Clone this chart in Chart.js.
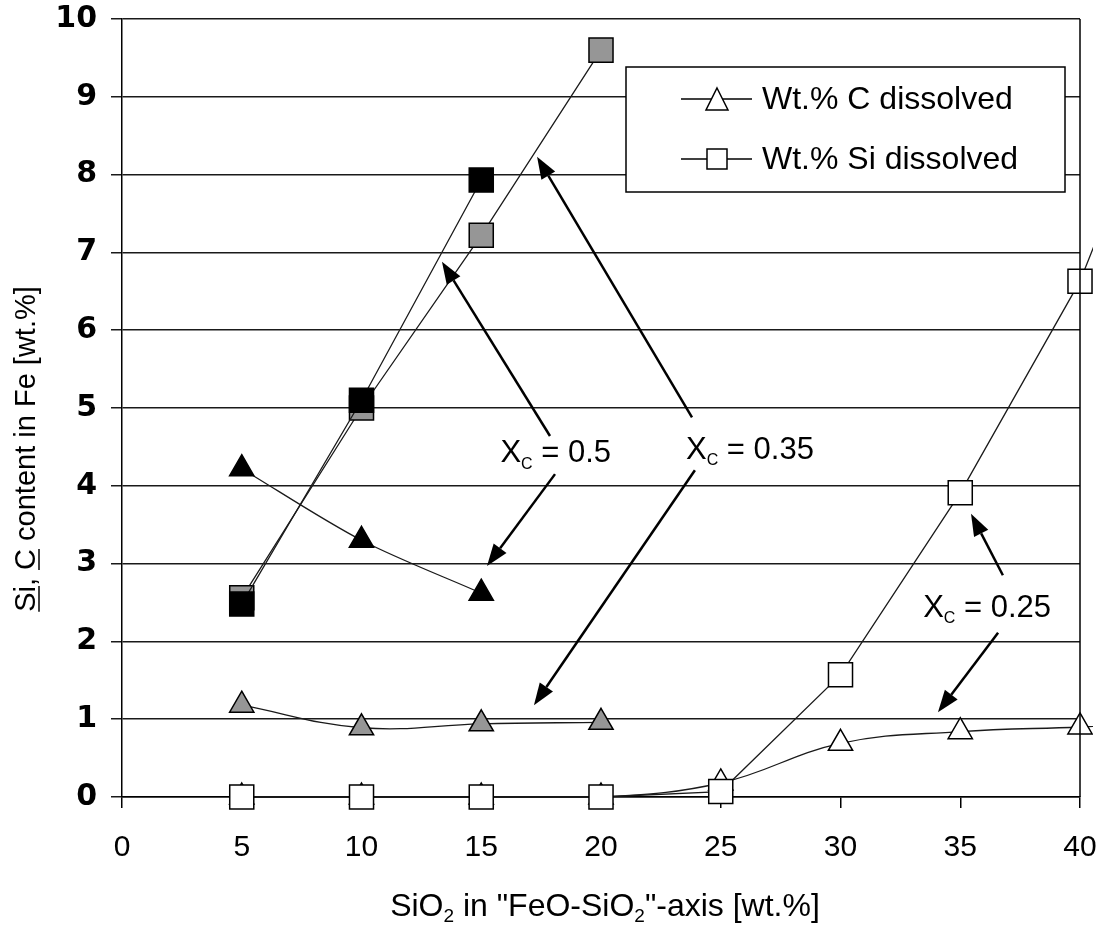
<!DOCTYPE html>
<html>
<head>
<meta charset="utf-8">
<title>Si, C content in Fe</title>
<script src="https://cdn.jsdelivr.net/npm/chart.js@4/dist/chart.umd.min.js"></script>
<style>
  html, body { margin: 0; padding: 0; background: #fff; }
</style>
</head>
<body>
<canvas id="chart" width="1104" height="927"></canvas>
<script>
// ===== Data =====
const sio2 = [5, 10, 15, 20, 25, 30, 35, 40, 45];
const xTicks = [0, 5, 10, 15, 20, 25, 30, 35, 40];
const yTicks = [0, 1, 2, 3, 4, 5, 6, 7, 8, 9, 10];

// Xc = 0.5 (black)
const siX050 = [2.48, 5.1, 7.93];
const cX050 = [4.22, 3.3, 2.62];
// Xc = 0.35 (grey)
const siX035 = [2.56, 5.0, 7.22, 9.6];
const cX035 = [1.18, 0.89, 0.94, 0.96];
// Xc = 0.25 (white), last value runs off the right edge
const siX025 = [0, 0, 0, 0, 0.07, 1.57, 3.91, 6.63, 10.5];
const cX025 = [0, 0, 0, 0, 0.18, 0.69, 0.84, 0.9, 0.97];

const legendItems = [
  { text: 'Wt.% C dissolved', style: 'triangle' },
  { text: 'Wt.% Si dissolved', style: 'rect' },
];

// annotation labels and arrows, in data units
const notes = [
  { text: '0.5', x: 15.8, y: 4.3 },
  { text: '0.35', x: 23.55, y: 4.35 },
  { text: '0.25', x: 33.45, y: 2.32 },
];
const arrows = [
  { from: [17.87, 4.64], to: [13.36, 6.88] },
  { from: [18.08, 4.15], to: [15.24, 2.97] },
  { from: [23.80, 4.88], to: [17.33, 8.23] },
  { from: [23.92, 4.20], to: [17.20, 1.18] },
  { from: [36.78, 2.85], to: [35.45, 3.64] },
  { from: [36.58, 2.11], to: [34.07, 1.09] },
];

const fam = "'Liberation Sans', Arial, sans-serif";

// ===== Helpers =====
function pts(vals) {
  return vals.map((v, i) => ({ x: sio2[i], y: v }));
}

const clipBox = { left: 20, top: 20, right: 13, bottom: 20 };

function series(label, vals, style, fill, radius, tension) {
  return {
    label,
    data: pts(vals),
    showLine: true,
    borderColor: '#1a1a1a',
    borderWidth: 1.3,
    pointStyle: style,
    pointRadius: vals.map((v, i) => (sio2[i] > 40 ? 0 : radius)),
    pointBackgroundColor: fill,
    pointBorderColor: '#000',
    pointBorderWidth: 1.5,
    tension,
    clip: clipBox,
  };
}

// no extra room for half labels; the layout padding handles it
function fixScale(s, prop, size) {
  s[prop] = size;
  s.paddingTop = 0;
  s.paddingBottom = 0;
  s.paddingLeft = 0;
  s.paddingRight = 0;
}

// draws text made of parts [text, kind]; kind 'sub' = subscript, 'u' = underlined
function richText(ctx, parts, x, y, size, align, subScale) {
  const sc = subScale || 0.6;
  const widths = parts.map(p => {
    ctx.font = (p[1] === 'sub' ? Math.round(size * sc) : size) + 'px ' + fam;
    return ctx.measureText(p[0]).width;
  });
  const total = widths.reduce((a, b) => a + b, 0);
  let cx = align === 'center' ? x - total / 2 : x;
  ctx.textAlign = 'left';
  ctx.textBaseline = 'alphabetic';
  parts.forEach((p, i) => {
    const sub = p[1] === 'sub';
    ctx.font = (sub ? Math.round(size * sc) : size) + 'px ' + fam;
    ctx.fillText(p[0], cx, y + (sub ? size * 0.2 : 0));
    if (p[1] === 'u') {
      ctx.beginPath();
      ctx.lineWidth = 1.5;
      ctx.moveTo(cx, y + 4);
      ctx.lineTo(cx + widths[i], y + 4);
      ctx.stroke();
    }
    cx += widths[i];
  });
}

function arrow(ctx, x1, y1, x2, y2) {
  const ang = Math.atan2(y2 - y1, x2 - x1);
  const len = 22, half = 8;
  const bx = x2 - Math.cos(ang) * len, by = y2 - Math.sin(ang) * len;
  ctx.beginPath();
  ctx.lineWidth = 2.5;
  ctx.moveTo(x1, y1);
  ctx.lineTo(bx, by);
  ctx.stroke();
  ctx.beginPath();
  ctx.moveTo(x2, y2);
  ctx.lineTo(bx + Math.sin(ang) * half, by - Math.cos(ang) * half);
  ctx.lineTo(bx - Math.sin(ang) * half, by + Math.cos(ang) * half);
  ctx.closePath();
  ctx.fill();
}

// ===== Decorations: border, legend, notes, axis titles =====
const decorations = {
  id: 'decorations',
  afterDatasetsDraw(chart) {
    const { ctx, chartArea: a, scales: { x, y } } = chart;
    ctx.save();
    ctx.fillStyle = '#000';
    ctx.strokeStyle = '#000';

    // right border
    ctx.beginPath();
    ctx.lineWidth = 1.5;
    ctx.moveTo(a.right, a.top);
    ctx.lineTo(a.right, a.bottom);
    ctx.stroke();

    // legend box
    const lw = 439, lh = 125;
    const lx = a.right - 454, ly = a.top + 48;
    ctx.fillStyle = '#fff';
    ctx.fillRect(lx, ly, lw, lh);
    ctx.lineWidth = 1.5;
    ctx.strokeRect(lx, ly, lw, lh);
    legendItems.forEach((it, i) => {
      const cy = ly + 32 + i * 60;
      ctx.beginPath();
      ctx.lineWidth = 1.3;
      ctx.moveTo(lx + 55, cy);
      ctx.lineTo(lx + 126, cy);
      ctx.stroke();
      const mx = lx + 91;
      ctx.beginPath();
      if (it.style === 'triangle') {
        ctx.moveTo(mx, cy - 11);
        ctx.lineTo(mx + 11, cy + 11);
        ctx.lineTo(mx - 11, cy + 11);
        ctx.closePath();
      } else {
        ctx.rect(mx - 10, cy - 10, 20, 20);
      }
      ctx.fillStyle = '#fff';
      ctx.fill();
      ctx.lineWidth = 1.5;
      ctx.stroke();
      ctx.fillStyle = '#000';
      ctx.font = '32px ' + fam;
      ctx.textAlign = 'left';
      ctx.textBaseline = 'middle';
      ctx.fillText(it.text, lx + 136, cy + 1);
    });

    // Xc labels and arrows
    ctx.fillStyle = '#000';
    notes.forEach(n => {
      richText(ctx, [['X'], ['C', 'sub'], [' = ' + n.text]],
        x.getPixelForValue(n.x), y.getPixelForValue(n.y), 31, 'left', 0.5);
    });
    arrows.forEach(ar => {
      arrow(ctx,
        x.getPixelForValue(ar.from[0]), y.getPixelForValue(ar.from[1]),
        x.getPixelForValue(ar.to[0]), y.getPixelForValue(ar.to[1]));
    });

    // x-axis title
    richText(ctx, [['SiO'], ['2', 'sub'], [' in "FeO-SiO'], ['2', 'sub'], ['"-axis [wt.%]']],
      (a.left + a.right) / 2 + 4, 916, 32, 'center');

    // y-axis title (rotated, Si and C underlined)
    ctx.translate(35, a.top + 430);
    ctx.rotate(-Math.PI / 2);
    richText(ctx, [['Si', 'u'], [', '], ['C', 'u'], [' content in Fe [wt.%]']], 0, 0, 29, 'center');
    ctx.restore();
  },
};

// ===== Chart =====
const ctx = document.getElementById('chart');
Chart.defaults.font.family = fam;
Chart.defaults.color = '#000';

new Chart(ctx, {
  type: 'scatter',
  data: {
    datasets: [
      series('Si, Xc = 0.5', siX050, 'rect', '#000', 17, 0),
      series('Si, Xc = 0.35', siX035, 'rect', '#969696', 17, 0),
      series('C, Xc = 0.5', cX050, 'triangle', '#000', 14, 0.3),
      series('C, Xc = 0.35', cX035, 'triangle', '#969696', 14, 0.4),
      series('Si, Xc = 0.25', siX025, 'rect', '#fff', 17, 0),
      series('C, Xc = 0.25', cX025, 'triangle', '#fff', 14, 0.4),
    ],
  },
  options: {
    responsive: false,
    devicePixelRatio: 1,
    animation: false,
    layout: { padding: { top: 19, right: 24, left: 0, bottom: 0 } },
    plugins: { legend: { display: false }, tooltip: { enabled: false } },
    scales: {
      x: {
        type: 'linear',
        // range set here (not as min/max) so the line to the off-axis point is still drawn
        afterDataLimits: s => { s.min = xTicks[0]; s.max = xTicks[xTicks.length - 1]; },
        afterBuildTicks: s => { s.ticks = xTicks.map(v => ({ value: v })); },
        afterFit: s => fixScale(s, 'height', 130),
        ticks: { font: { size: 30 }, padding: 22, color: '#000' },
        grid: { drawOnChartArea: false, drawTicks: true, tickLength: 11, color: '#000', lineWidth: 1.5 },
        border: { display: true, color: '#000', width: 1.5 },
      },
      y: {
        min: 0,
        max: 10,
        afterBuildTicks: s => { s.ticks = yTicks.map(v => ({ value: v })); },
        afterFit: s => fixScale(s, 'width', 122),
        ticks: { font: { size: 30, weight: 'bold', family: "'DejaVu Sans', sans-serif" }, padding: 14, color: '#000' },
        grid: { color: '#1a1a1a', lineWidth: 1.5, tickLength: 11 },
        border: { display: true, color: '#000', width: 1.5 },
      },
    },
  },
  plugins: [decorations],
});
</script>
</body>
</html>
